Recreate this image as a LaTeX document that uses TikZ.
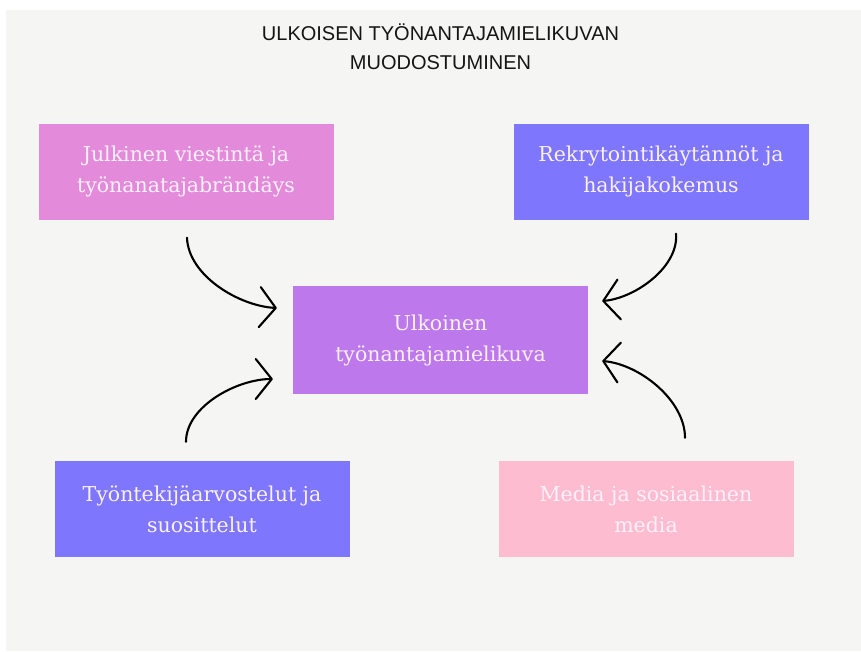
\documentclass[tikz,border=0pt]{standalone}
\usepackage{fontspec}
\usepackage{tikz}
\newfontfamily\titlefont{Liberation Sans}
\newfontfamily\boxfont{DejaVu Serif}
\usetikzlibrary{arrows.meta,
                positioning}
\definecolor{bggray}{HTML}{F5F5F3}
\definecolor{titletext}{HTML}{151515}
\definecolor{boxtext}{HTML}{FAF0F9}
\definecolor{juliviolet}{HTML}{E38BDA}
\definecolor{rekblue}{HTML}{7E76FC}
\definecolor{centerviolet}{HTML}{BD78EC}
\definecolor{mediapink}{HTML}{FDBCD0}

\begin{document}
\begin{tikzpicture}[x=1pt, y=1pt,
  box/.style = {minimum width=295pt, minimum height=96pt, inner sep=0pt,
      align=center, text=boxtext, font=\boxfont\fontsize{20.5}{31}\selectfont},
  every edge/.style = {draw, line width=2.1pt, line cap=round, looseness=0.85,
      -{Straight Barb[length=16pt, width=40pt, round]}}
  ]
  \useasboundingbox (0,0) rectangle (861,-651);
  \fill[bggray] (6,-10) rectangle (861,-651);
  \node[font=\titlefont\fontsize{20}{29}\selectfont, align=center,
    text=titletext] (title) at (440.5,-47)
    {ULKOISEN TYÖNANTAJAMIELIKUVAN\\MUODOSTUMINEN};
  %
  \node[box, fill=juliviolet] (jul) at (186,-171.5)
    {Julkinen viestintä ja\\työnanatajabrändäys};
  \node[box, fill=rekblue] (rek) at (661,-171.5)
    {Rekrytointikäytännöt ja\\hakijakokemus};
  \node[box, fill=centerviolet, minimum height=108pt] (ulk) at (440.5,-340)
    {Ulkoinen\\työnantajamielikuva};
  \node[box, fill=rekblue] (tyo) at (202,-509)
    {Työntekijäarvostelut ja\\suosittelut};
  \node[box, fill=mediapink] (med) at (646,-509)
    {Media ja sosiaalinen\\media};
  %
  \draw ([shift={(1,-18)}]jul.south) edge[out=-88, in=177] ([shift={(-16,32)}]ulk.west)
        ([shift={(-16,19)}]tyo.north) edge[out=90, in=180] ([shift={(-20,-39)}]ulk.west)
        ([shift={(15,-14)}]rek.south) edge[out=-85, in=5] ([shift={(14,39)}]ulk.east)
        ([shift={(39,23)}]med.north) edge[out=90, in=-5] ([shift={(14,-21)}]ulk.east);
\end{tikzpicture}
\end{document}
